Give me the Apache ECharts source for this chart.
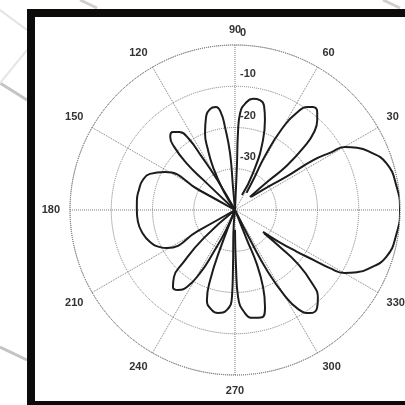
<!DOCTYPE html>
<html>
<head>
<meta charset="utf-8">
<script src="https://cdn.jsdelivr.net/npm/echarts@6/dist/echarts.min.js"></script>
<style>
  html, body { margin: 0; padding: 0; background: #fff; }
  #chart { width: 405px; height: 405px; }
</style>
</head>
<body>
<div id="chart"></div>
<script>
// 径向范围 (dB)
const radiusMin = -40
const radiusMax = 0
const radiusStep = 10
// 角度刻度间隔
const angleStep = 30

// 各波瓣轮廓 [角度, dB]
const lobeMain = [
  [39, -35], [35, -30], [33, -25], [32.5, -17.5], [31, -13], [29.8, -9.3], [27, -6.8], [24, -4.8],
  [17.2, -1.6], [8.1, -0.4], [360, 0], [351.9, -0.4], [342.8, -1.6], [336, -4.8], [333, -6.8],
  [330.1, -9.4], [328.5, -13], [327.5, -17.5], [326, -22], [324, -27], [322, -31.4],
]
const lobe53 = [
  [41, -35.2], [41, -29.5], [40.5, -23.5], [42.5, -17], [44.5, -13.2], [47.5, -10.5], [50, -9],
  [53, -8.7], [55, -9.5], [57.5, -12], [60, -17.4], [61, -25], [59, -31], [56, -35],
]
const lobe81 = [
  [65, -36], [64, -30], [68.2, -21.7], [71.6, -17], [74.4, -13.8], [77.2, -12.7], [80.8, -12.7],
  [83.7, -13.6], [87, -16.5], [87.8, -21.3], [87.5, -29.1], [89, -40],
]
const lobe102 = [
  [95, -40], [95, -34.4], [95, -26.1], [96.9, -19.7], [98.2, -16.2], [100.5, -14.6], [103.9, -14.8],
  [107.5, -16.6], [111.3, -20], [114.2, -24], [117.1, -28.3], [121, -34.4], [122, -40],
]
const lobe130 = [
  [119, -40], [120.5, -31.5], [122, -24.6], [123, -19.4], [125.5, -16.8], [128.5, -15.8],
  [131.5, -16.3], [134, -18.9], [136, -23.7], [136.5, -29.4], [136, -40],
]
const lobe180 = [
  [150, -40], [151, -30], [151.5, -20.7], [157, -17.6], [162, -16.5], [168.2, -16.2], [174.2, -16.1],
  [180, -16.2], [187, -16.3], [193.3, -16.8], [200.6, -18], [206.3, -19.7], [209.2, -21.1],
  [209.6, -29.7], [210, -40],
]
const lobe232 = [
  [220, -40], [222, -29.8], [225.5, -22], [227.7, -18], [231.2, -16], [234.5, -16.2], [238, -18],
  [241, -22.5], [243, -28.3], [246, -34.8], [246, -40],
]
const lobe260 = [
  [248, -40], [249, -30.3], [250.5, -22], [252.7, -17.1], [257, -15.1], [260.6, -14.7], [265.4, -15.7],
  [268, -18.9], [268, -26.2], [266, -34.4], [266, -40],
]
const lobe280 = [
  [270, -35.2], [271, -26.2], [272, -18.9], [275.5, -14.9], [279.5, -13.5], [284.2, -13.2],
  [287.2, -15.4], [290, -20.1], [292, -26.1], [291.8, -32.2], [292, -40],
]
const lobe305 = [
  [296, -40], [297, -31.5], [298, -23.2], [300, -16.3], [302.5, -11.5], [306, -9.1], [309.9, -9],
  [313.3, -10.7], [316.5, -14.3], [319.5, -20.2], [320.6, -25.9], [321.5, -31],
]
const lobes = [lobeMain, lobe53, lobe81, lobe102, lobe130, lobe180, lobe232, lobe260, lobe280, lobe305]

// 初始化 echarts 实例
const myChart = echarts.init(document.getElementById('chart'))

// 网格点线
const gridLine = { color: '#7a7a7a', width: 1, type: [1, 1] }
// 文字样式
const labelFont = { color: '#333', fontSize: 11, fontWeight: 'bold', fontFamily: 'Liberation Sans' }

const option = {
  backgroundColor: '#fff',
  animation: false,
  // 两个极坐标系：一个画图和网格，一个只放 90 度方向的径向刻度（略往上移）
  polar: [
    { center: [235, 210], radius: 165 },
    { center: [235, 198], radius: 165 },
  ],
  angleAxis: [
    {
      polarIndex: 0,
      type: 'value',
      min: 0,
      max: 360,
      interval: angleStep,
      startAngle: 0,
      clockwise: false,
      axisLine: { lineStyle: gridLine },
      axisTick: { show: false },
      axisLabel: { ...labelFont, margin: 10 },
      splitLine: { show: true, lineStyle: gridLine },
    },
    {
      polarIndex: 1,
      type: 'value',
      min: 0,
      max: 360,
      startAngle: 90,
      show: false,
    },
  ],
  radiusAxis: [
    {
      polarIndex: 0,
      type: 'value',
      min: radiusMin,
      max: radiusMax,
      interval: radiusStep,
      axisLine: { show: false },
      axisTick: { show: false },
      axisLabel: { show: false },
      splitLine: { show: true, lineStyle: gridLine },
    },
    {
      polarIndex: 1,
      type: 'value',
      min: radiusMin,
      max: radiusMax,
      interval: radiusStep,
      axisLine: { show: false },
      axisTick: { show: false },
      splitLine: { show: false },
      axisLabel: {
        ...labelFont,
        margin: -5,
        align: 'left',
        verticalAlign: 'middle',
        showMinLabel: false,
        formatter: (v) => (v === radiusMin ? '' : String(v)),
      },
    },
  ],
  series: lobes.map((lobe) => ({
    type: 'line',
    coordinateSystem: 'polar',
    polarIndex: 0,
    smooth: 0.5,
    symbol: 'none',
    lineStyle: { color: '#1c1c1c', width: 2 },
    data: lobe.map((p) => [p[1], p[0]]),
  })),
  // 外框和背景水印线
  graphic: [
    { type: 'line', z: -1, shape: { x1: 0, y1: 10, x2: 27, y2: 30 }, style: { stroke: '#e2e2e2', lineWidth: 2 } },
    { type: 'line', z: -1, shape: { x1: 0, y1: 83, x2: 27, y2: 100 }, style: { stroke: '#c4c4c4', lineWidth: 3 } },
    { type: 'line', z: -1, shape: { x1: 27, y1: 50, x2: 0, y2: 83 }, style: { stroke: '#e6e6e6', lineWidth: 2 } },
    { type: 'line', z: -1, shape: { x1: 0, y1: 347, x2: 27, y2: 360 }, style: { stroke: '#c4c4c4', lineWidth: 3 } },
    { type: 'line', z: -1, shape: { x1: 80, y1: 0, x2: 97, y2: 8 }, style: { stroke: '#cfcfcf', lineWidth: 3 } },
    { type: 'line', z: -1, shape: { x1: 383, y1: 0, x2: 400, y2: 8 }, style: { stroke: '#cfcfcf', lineWidth: 3 } },
    { type: 'rect', z: 10, shape: { x: 27, y: 9, width: 378, height: 8 }, style: { fill: '#0d0b0a' } },
    { type: 'rect', z: 10, shape: { x: 27, y: 9, width: 8, height: 396 }, style: { fill: '#0d0b0a' } },
    { type: 'rect', z: 10, shape: { x: 27, y: 401, width: 378, height: 4 }, style: { fill: '#0d0b0a' } },
  ],
}

myChart.setOption(option)
</script>
</body>
</html>
